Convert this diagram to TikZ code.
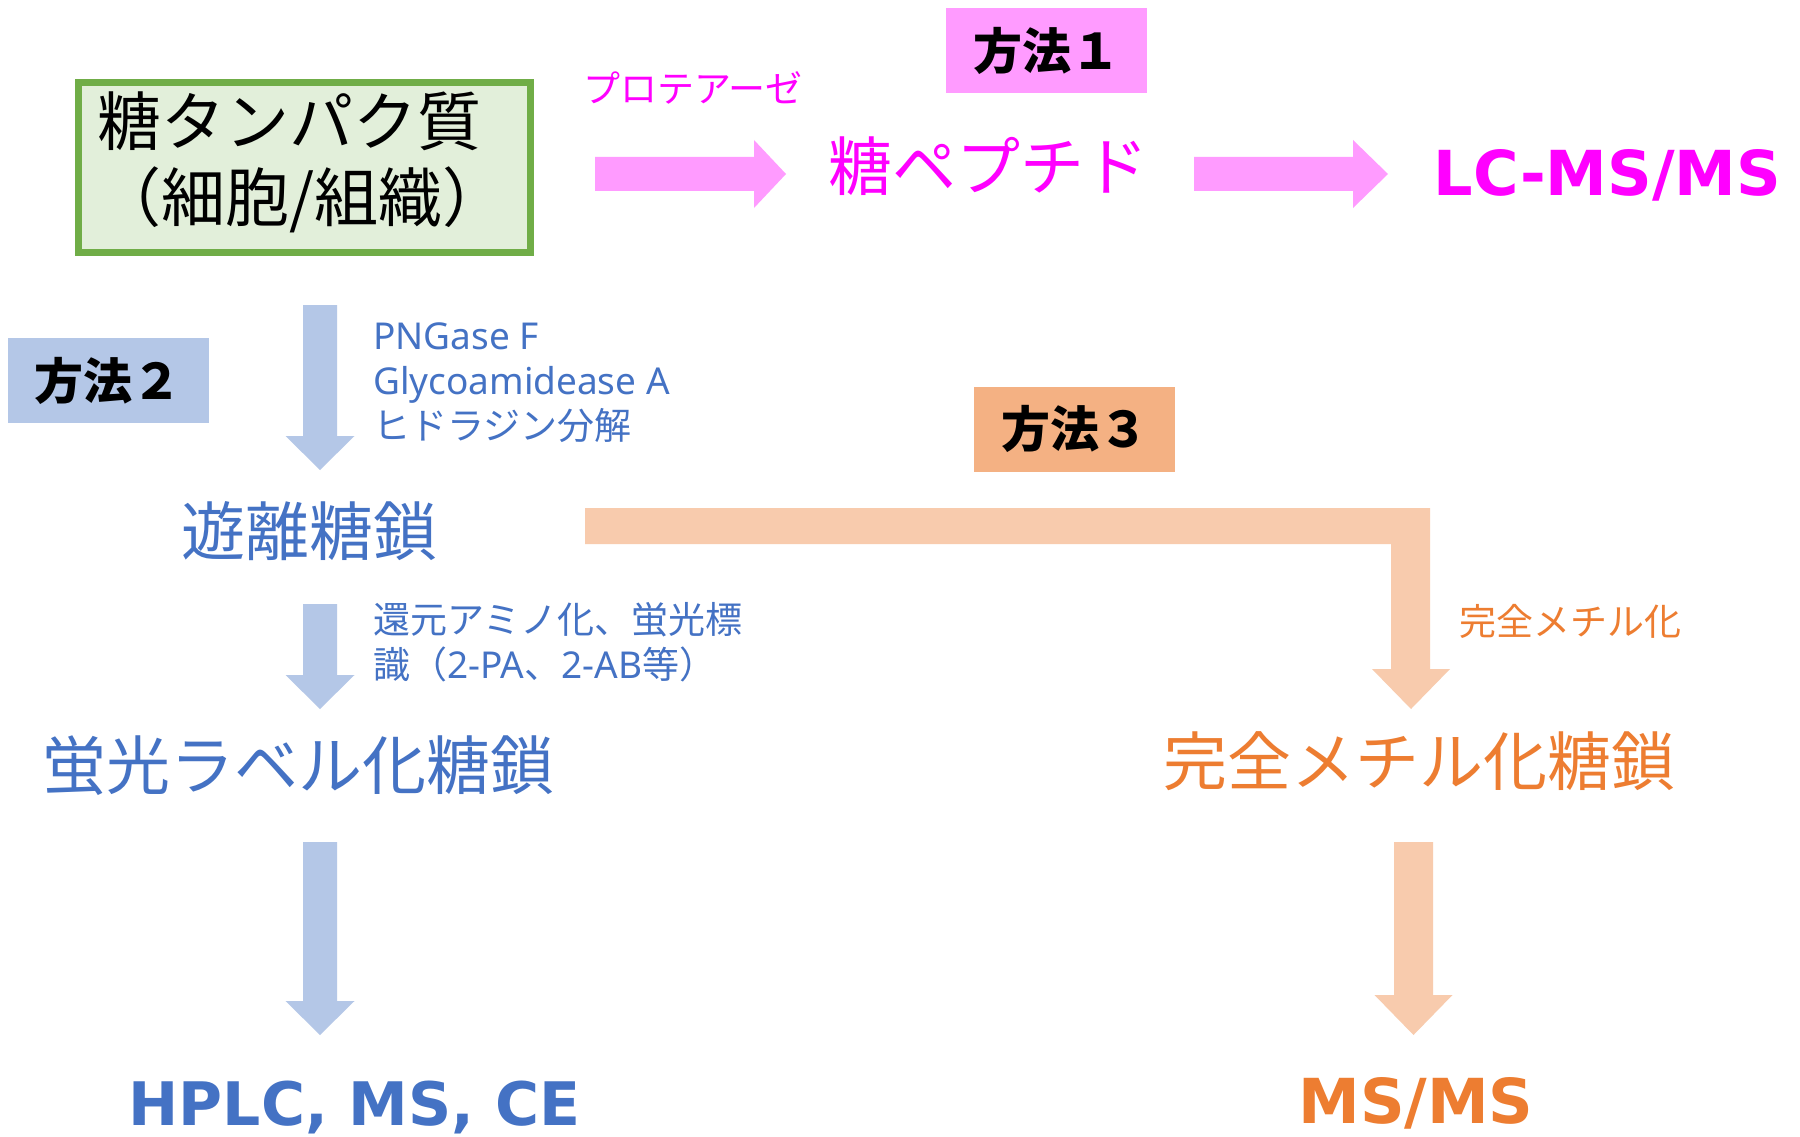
\documentclass[tikz,border=0pt]{standalone}
\usepackage{fontspec}
\setmainfont{Noto Sans CJK JP}
\newfontfamily\dvs{DejaVu Sans}
\newfontfamily\nsans{Noto Sans}
\definecolor{pinkarr}{HTML}{FF9BFF}
\definecolor{mag}{HTML}{FF00FF}
\definecolor{bluearr}{HTML}{B4C7E7}
\definecolor{bluetxt}{HTML}{4472C4}
\definecolor{orarr}{HTML}{F8CBAD}
\definecolor{orbox}{HTML}{F4B183}
\definecolor{ortxt}{HTML}{ED7D31}
\definecolor{grnline}{HTML}{70AD47}
\definecolor{grnfill}{HTML}{E2EFDA}
\newcommand{\blockdown}[7]{%
  \fill[#1] (#2-#6,#3) -- (#2+#6,#3) -- (#2+#6,#4) -- (#2+#7,#4) -- (#2,#5) -- (#2-#7,#4) -- (#2-#6,#4) -- cycle;}
\newcommand{\blockright}[7]{%
  \fill[#1] (#3,#2-#6) -- (#3,#2+#6) -- (#4,#2+#6) -- (#4,#2+#7) -- (#5,#2) -- (#4,#2-#7) -- (#4,#2-#6) -- cycle;}
\tikzset{
  big/.style={font=\fontsize{64}{76}\selectfont, inner sep=0pt},
  small/.style={font=\fontsize{37}{45}\selectfont, inner sep=0pt},
  method/.style={font=\bfseries\fontsize{49}{55}\selectfont, text=black, inner sep=0pt,
                 minimum width=201pt, minimum height=85pt},
  result/.style={font=\dvs\bfseries\fontsize{62}{70}\selectfont, inner sep=0pt, anchor=base},
}
\begin{document}
\begin{tikzpicture}[x=1pt,y=-1pt]
\useasboundingbox (0,0) rectangle (1800,1137);
\fill[white] (0,0) rectangle (1800,1137);

% glycoprotein box
\node[draw=grnline, fill=grnfill, line width=7pt, minimum width=452pt, minimum height=170pt,
      inner sep=0pt] (gp) at (304.5,167.5) {};
\node[big, align=left, text=black] (gptext) at (302,162) {糖タンパク質\\（細胞/組織）};

% method 1
\node[method, fill=pinkarr] (m1) at (1046.5,50.5) {方法１};
\node[small, text=mag, anchor=west] (prot) at (583,88) {プロテアーゼ};
\blockright{pinkarr}{174}{595}{754}{786}{17}{34}
\node[big, text=mag] (gpep) at (988,166) {糖ペプチド};
\blockright{pinkarr}{174}{1194}{1353}{1388}{17}{34}
\node[result, text=mag] (lcms) at (1607.5,195) {LC-MS/MS};

% method 2
\node[method, fill=bluearr] (m2) at (108,380.5) {方法２};
\blockdown{bluearr}{320}{305}{436}{470}{17}{34.5}
\node[small, text=bluetxt, align=left, anchor=north west] (enz) at (373,323)
  {{\nsans PNGase F}\\{\nsans Glycoamidease A}\\ヒドラジン分解};
\node[big, text=bluetxt] (free) at (309.5,531) {遊離糖鎖};
\blockdown{bluearr}{320}{604}{675}{709}{17}{34.5}
\node[small, text=bluetxt, align=left, anchor=north west] (lab) at (373,602)
  {還元アミノ化、蛍光標\\識（{\nsans 2-PA}、{\nsans 2-AB}等）};
\node[big, text=bluetxt] (fl) at (298.5,766) {蛍光ラベル化糖鎖};
\blockdown{bluearr}{320}{842}{1001}{1035}{17}{34.5}
\node[result, text=bluetxt, font=\dvs\bfseries\fontsize{60}{70}\selectfont] (hplc) at (354.5,1125) {HPLC, MS, CE};

% method 3
\node[method, fill=orbox] (m3) at (1074.5,429) {方法３};
\fill[orarr] (585,508) -- (1430,508) -- (1430,669) -- (1450,669) -- (1411,709)
  -- (1372,669) -- (1391,669) -- (1391,544) -- (585,544) -- cycle;
\node[small, text=ortxt, anchor=west] (meth) at (1459,621) {完全メチル化};
\node[big, text=ortxt] (pm) at (1419,761) {完全メチル化糖鎖};
\blockdown{orarr}{1413.5}{842}{995}{1035}{19.5}{39}
\node[result, text=ortxt] (msms) at (1416,1123) {MS/MS};
\end{tikzpicture}
\end{document}
